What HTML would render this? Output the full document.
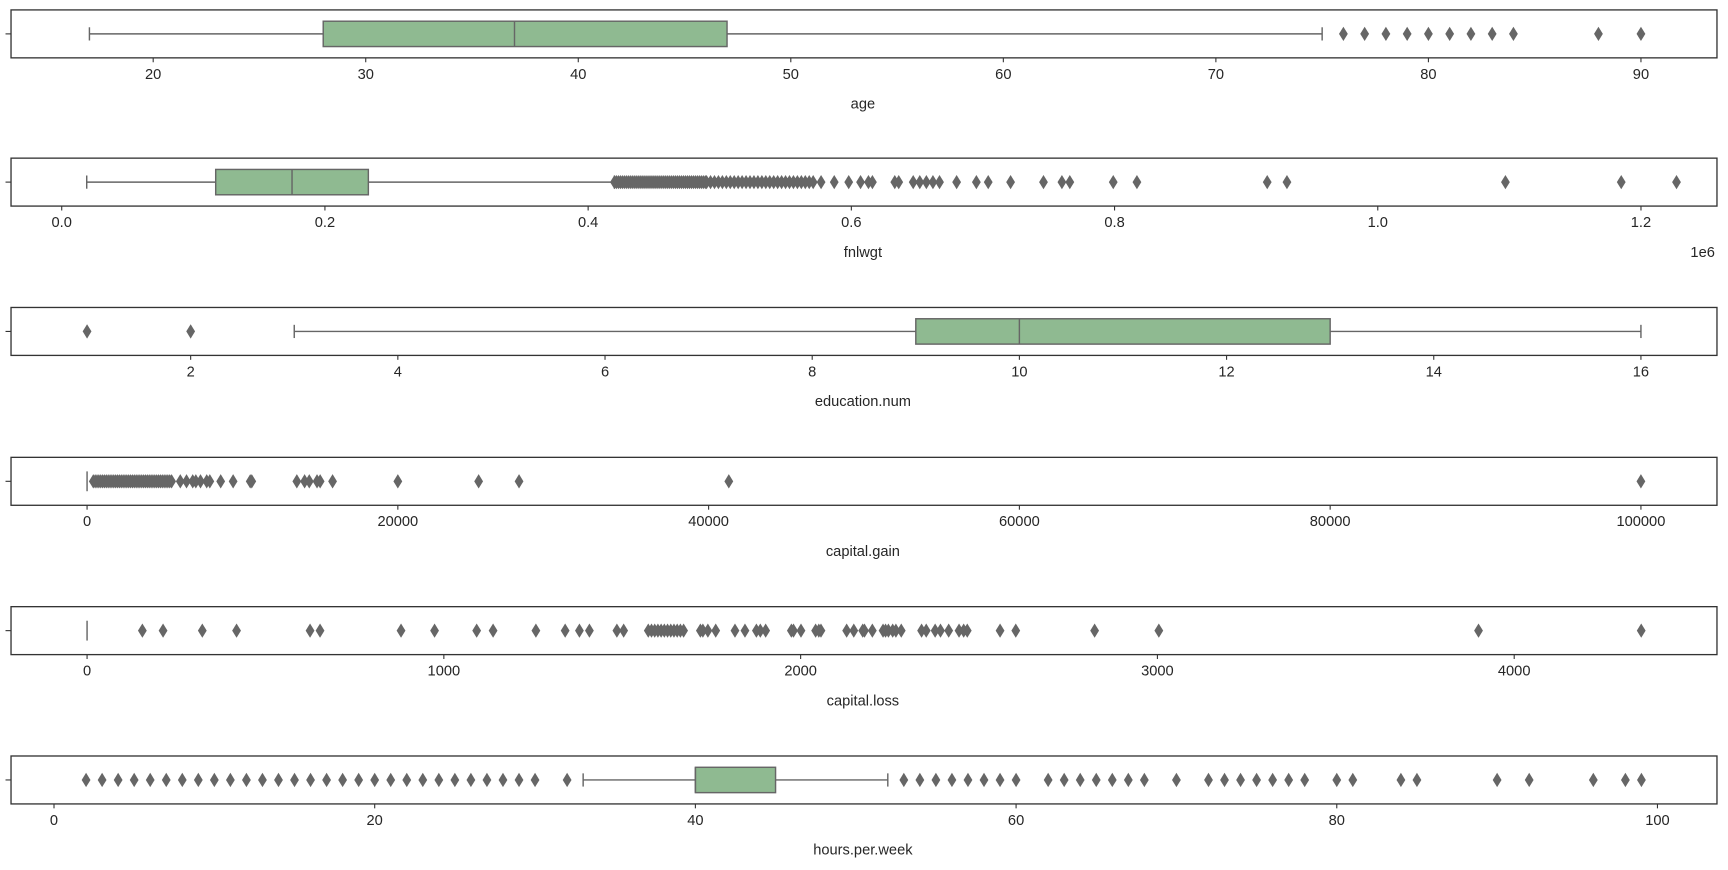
<!DOCTYPE html>
<html><head><meta charset="utf-8"><style>
html,body{margin:0;padding:0;background:#fff;}
svg{display:block;}
text{font-family:"Liberation Sans","DejaVu Sans",sans-serif;fill:#262626;}
</style></head><body>
<svg id="s" width="1728" height="870" viewBox="0 0 1568 789.45" xmlns="http://www.w3.org/2000/svg"></svg>
<script>
var s=document.getElementById('s'),h='';
var E='#666666';
function rng(a,b,st){var r=[];for(var v=a;v<=b+1e-9;v+=st)r.push(v);return r;}
function panel(o){
 var y0=o.y,y1=o.y+43.5,cy=(y0+y1)/2,f=o.f;
 h+='<line x1="5" x2="10" y1="'+cy+'" y2="'+cy+'" stroke="#333" stroke-width="1"/>';
 if(o.w){
  h+='<line x1="'+f(o.w[0])+'" x2="'+f(o.b?o.b[0]:o.w[1])+'" y1="'+cy+'" y2="'+cy+'" stroke="'+E+'" stroke-width="1.3"/>';
  if(o.b)h+='<line x1="'+f(o.b[1])+'" x2="'+f(o.w[1])+'" y1="'+cy+'" y2="'+cy+'" stroke="'+E+'" stroke-width="1.3"/>';
  h+='<line x1="'+f(o.w[0])+'" x2="'+f(o.w[0])+'" y1="'+(cy-6)+'" y2="'+(cy+6)+'" stroke="'+E+'" stroke-width="1.3"/>';
  h+='<line x1="'+f(o.w[1])+'" x2="'+f(o.w[1])+'" y1="'+(cy-6)+'" y2="'+(cy+6)+'" stroke="'+E+'" stroke-width="1.3"/>';
 }
 if(o.b){
  h+='<rect x="'+f(o.b[0])+'" y="'+(cy-11.5)+'" width="'+(f(o.b[1])-f(o.b[0]))+'" height="23" fill="#8fba91" stroke="'+E+'" stroke-width="1.3"/>';
  h+='<line x1="'+f(o.m)+'" x2="'+f(o.m)+'" y1="'+(cy-11.5)+'" y2="'+(cy+11.5)+'" stroke="'+E+'" stroke-width="1.3"/>';
 }
 if(o.zero)h+='<line x1="'+f(0)+'" x2="'+f(0)+'" y1="'+(cy-9)+'" y2="'+(cy+9)+'" stroke="'+E+'" stroke-width="1.3"/>';
 o.out.forEach(function(v){var x=f(v);h+='<path d="M'+x+' '+(cy-6.5)+'L'+(x+4)+' '+cy+'L'+x+' '+(cy+6.5)+'L'+(x-4)+' '+cy+'Z" fill="'+E+'"/>';});
 h+='<rect x="10" y="'+y0+'" width="1548" height="43.5" fill="none" stroke="#333" stroke-width="1.2"/>';
 o.t.forEach(function(t){var x=f(t[0]);h+='<line x1="'+x+'" x2="'+x+'" y1="'+y1+'" y2="'+(y1+4)+'" stroke="#333"/><text x="'+x+'" y="'+(y1+19)+'" font-size="13.3" text-anchor="middle">'+t[1]+'</text>';});
 h+='<text x="'+o.lx+'" y="'+(y1+46)+'" font-size="13.3" text-anchor="middle">'+o.l+'</text>';
}
var fa=function(v){return 139+(v-20)*19.286;};
panel({y:9,f:fa,w:[17,75],b:[28,47],m:37,out:[76,77,78,79,80,81,82,83,84,88,90],t:[[20,'20'],[30,'30'],[40,'40'],[50,'50'],[60,'60'],[70,'70'],[80,'80'],[90,'90']],l:'age',lx:783});
var ff=function(v){return 56+v*1194.2;};
var fo=rng(0.42,0.49,0.0015).concat(rng(0.49,0.572,0.003)).concat([0.577,0.587,0.598,0.607,0.613,0.616,0.633,0.636,0.647,0.652,0.657,0.662,0.667,0.68,0.695,0.704,0.721,0.746,0.76,0.766,0.799,0.817,0.916,0.931,1.097,1.185,1.227]);
panel({y:143.5,f:ff,w:[0.019,0.42],b:[0.117,0.233],m:0.175,out:fo,t:[[0,'0.0'],[0.2,'0.2'],[0.4,'0.4'],[0.6,'0.6'],[0.8,'0.8'],[1.0,'1.0'],[1.2,'1.2']],l:'fnlwgt',lx:783});
h+='<text x="1545" y="233" font-size="13.3" text-anchor="middle">1e6</text>';
var fe=function(v){return 173+(v-2)*94;};
panel({y:279,f:fe,w:[3,16],b:[9,13],m:10,out:[1,2],t:[[2,'2'],[4,'4'],[6,'6'],[8,'8'],[10,'10'],[12,'12'],[14,'14'],[16,'16']],l:'education.num',lx:783});
var fg=function(v){return 79+v*0.0141;};
var go=rng(400,5500,120).concat([6000,6400,6800,7000,7300,7700,7900,8600,9400,10500,10600,13500,14000,14300,14800,15000,15800,20000,25200,27800,41300,99999]);
panel({y:415,f:fg,zero:1,out:go,t:[[0,'0'],[20000,'20000'],[40000,'40000'],[60000,'60000'],[80000,'80000'],[100000,'100000']],l:'capital.gain',lx:783});
var fl=function(v){return 79+v*0.32375;};
var lo=[155,213,323,419,625,653,880,974,1092,1138,1258,1340,1380,1408,1485,1504].concat(rng(1573,1672,9)).concat([1719,1726,1740,1762,1816,1844,1876,1887,1902,1974,1980,2001,2042,2051,2057,2129,2149,2174,2179,2201,2231,2238,2246,2258,2267,2282,2339,2352,2377,2392,2415,2444,2457,2467,2559,2603,2824,3004,3900,4356]);
panel({y:550.5,f:fl,zero:1,out:lo,t:[[0,'0'],[1000,'1000'],[2000,'2000'],[3000,'3000'],[4000,'4000']],l:'capital.loss',lx:783});
var fh=function(v){return 49+v*14.55;};
var ho=rng(2,30,1).concat([32,53,54,55,56,57,58,59,60,62,63,64,65,66,67,68,70,72,73,74,75,76,77,78,80,81,84,85,90,92,96,98,99]);
panel({y:686,f:fh,w:[33,52],b:[40,45],m:40,out:ho,t:[[0,'0'],[20,'20'],[40,'40'],[60,'60'],[80,'80'],[100,'100']],l:'hours.per.week',lx:783});
s.innerHTML=h;
</script>
</body></html>
